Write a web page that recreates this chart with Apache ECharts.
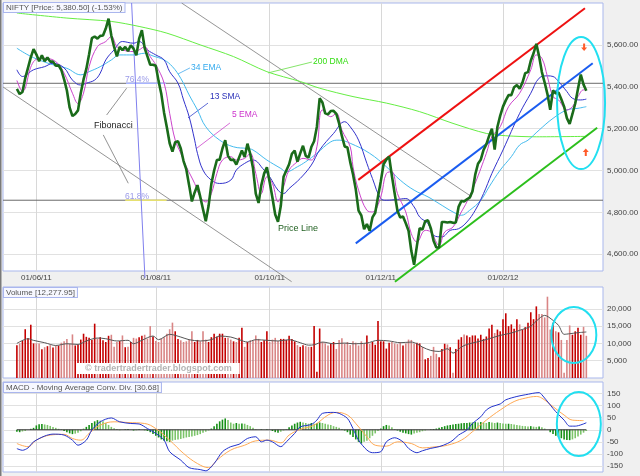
<!DOCTYPE html>
<html><head><meta charset="utf-8">
<script src="https://cdn.jsdelivr.net/npm/echarts@6/dist/echarts.min.js"></script>
<style>html,body{margin:0;padding:0;background:#f0f0f0}#c{width:640px;height:476px}</style>
</head><body><div id="c"></div>
<script>
// ---------- DATA ----------
const tickIdx = [12, 55, 96, 136, 180];            // trading-day index of each date label
const tickLabels = ['01/06/11', '01/08/11', '01/10/11', '01/12/11', '01/02/12'];
const priceTicks = [4600, 4800, 5000, 5200, 5400, 5600];
const volTicks = [5000, 10000, 15000, 20000];
const macdTicks = [-150, -100, -50, 0, 50, 100, 150];

const dayStart = 5; // first trading day with data
const price = [
5390,5365,5375,5441,5490,5540,5580,5555,5522,5550,
5522,5540,5520,5520,5500,5502,5480,5435,5382,5300,
5260,5270,5287,5370,5435,5485,5555,5632,5640,5630,
5643,5645,5678,5725,5645,5590,5545,5590,5575,5590,
5570,5598,5582,5550,5630,5670,5585,5545,5505,5505,
5500,5428,5365,5275,5205,5130,5090,5135,5140,5105,
5045,5005,4930,4852,4895,4930,4875,4815,4758,4830,
4935,5000,5050,5052,5105,5145,5070,5050,5052,5028,
5062,5096,5065,5128,5080,5012,4890,4845,4930,4985,
5015,4945,4870,4790,4755,4830,4970,5000,5030,5080,
5095,5042,5082,5118,5070,5062,5112,5140,5209,5345,
5325,5273,5268,5284,5285,5270,5225,5165,5115,5110,
5040,4982,4910,4808,4785,4720,4744,4712,4776,4798,
4875,4948,5030,5052,5066,4975,4890,4808,4776,4780,
4748,4712,4615,4550,4640,4725,4718,4758,4762,4725,
4665,4632,4633,4754,4754,4752,4754,4750,4752,4826,
4854,4852,4862,4870,4900,4980,5032,5052,5098,5125,
5165,5200,5100,5209,5262,5305,5335,5360,5360,5398,
5408,5390,5420,5465,5470,5524,5560,5605,5545,5470,
5420,5365,5290,5382,5368,5372,5340,5305,5250,5222,
5270,5320,5390,5458,5410,5380.5];

const ema5 = [[5,5430],[7,5378],[11,5520],[15,5536],[19,5520],[22,5465],[25,5369],[27,5320],[29,5370],[31,5496],[34,5592],[37,5616],[39,5640],[41,5592],[43,5576],[47,5568],[49,5576],[51,5592],[53,5544],[55,5505],[58,5417],[60,5273],[62,5145],[64,5082],[66,5018],[69,4938],[71,4874],[73,4850],[75,4890],[77,4986],[79,5050],[82,5066],[84,5050],[87,5058],[89,5082],[91,4986],[93,4890],[95,4970],[97,4938],[99,4850],[101,4922],[103,5002],[106,5042],[108,5058],[111,5050],[113,5113],[115,5289],[118,5257],[120,5273],[122,5193],[125,5113],[126,5018],[128,4906],[131,4810],[133,4802],[136,4874],[138,4986],[140,4994],[142,4890],[145,4802],[147,4698],[149,4659],[152,4714],[154,4706],[157,4643],[159,4706],[162,4730],[165,4802],[167,4850],[170,4940],[174,5082],[176,5161],[179,5209],[182,5305],[186,5369],[190,5481],[192,5552],[194,5536],[196,5448],[198,5353],[200,5337],[203,5289],[205,5305],[207,5353],[209,5385],[210,5385]];
const sma13 = [[5,5481],[7,5449],[11,5481],[15,5496],[18,5512],[22,5490],[25,5432],[28,5408],[30,5417],[33,5432],[35,5465],[37,5528],[40,5576],[43,5616],[47,5608],[49,5616],[52,5576],[55,5552],[58,5528],[60,5472],[63,5417],[65,5337],[67,5257],[69,5145],[70,5082],[72,5002],[75,4954],[78,4938],[82,4954],[84,5002],[87,5034],[90,5050],[94,5002],[96,4970],[99,4906],[101,4890],[103,4914],[107,4962],[111,5026],[114,5098],[119,5177],[123,5233],[125,5209],[128,5145],[131,5034],[133,4962],[136,4866],[138,4858],[142,4862],[145,4866],[148,4826],[150,4778],[153,4746],[155,4690],[158,4683],[161,4714],[164,4722],[167,4754],[170,4810],[173,4890],[176,4986],[180,5098],[186,5273],[190,5369],[193,5441],[196,5452],[198,5449],[200,5425],[203,5377],[205,5345],[208,5337],[210,5341]];
const ema34 = [[5,5584],[9,5552],[13,5528],[18,5505],[23,5488],[28,5457],[31,5472],[35,5496],[39,5528],[42,5552],[47,5552],[51,5560],[54,5547],[58,5528],[61,5496],[64,5440],[67,5361],[70,5289],[73,5209],[78,5145],[83,5113],[88,5105],[90,5098],[95,5050],[100,5010],[102,4994],[106,5018],[109,5042],[113,5082],[118,5137],[121,5145],[125,5130],[132,5082],[138,5018],[143,4954],[148,4906],[153,4874],[157,4842],[162,4802],[165,4786],[168,4810],[172,4858],[175,4922],[179,5002],[183,5066],[186,5122],[189,5145],[193,5193],[198,5249],[203,5289],[207,5297],[210,5305]];
const dma200 = [[5,5752],[23,5728],[39,5712],[49,5688],[59,5656],[71,5600],[83,5544],[95,5472],[107,5425],[114,5393],[126,5353],[138,5322],[150,5281],[162,5225],[174,5177],[181,5166],[192,5161],[210,5163]];

const volume = [
9500,10000,10700,14100,11500,15400,10000,10000,10000,8300,
8900,9200,9500,8800,9300,9400,10200,10600,11300,9800,
12600,9400,9600,11100,12800,11900,11600,11000,15700,11400,
11800,10900,10400,12200,12500,9000,10400,10700,12300,8900,
9000,10400,11600,11400,11800,12200,12500,11400,15000,12000,
10700,10400,11400,11800,12800,14100,16000,13500,11300,10900,
10400,10600,11100,13500,10400,11000,10600,13500,11100,10400,
11800,12800,11900,12800,12800,11600,11600,11100,10600,10400,
11600,14500,9000,10400,10900,10900,12300,11300,10400,10900,
13500,10400,11100,11600,10700,11300,11300,11000,12200,11300,
10600,9500,9000,9500,9200,9000,9000,15000,1800,14300,
10400,10000,9400,10000,10400,8400,11000,11500,10000,10400,
9500,10600,10200,9400,10600,10000,12300,9900,10400,9600,
16500,10600,10600,8500,10200,10400,10000,9800,10400,9400,
10000,11100,11000,10000,10200,10000,9000,5400,5800,6400,
9000,7000,6000,8400,9900,9700,8900,1500,8400,11100,
11800,12600,12300,11800,12300,12300,11400,12500,11300,12000,
14300,15400,13000,14000,13500,17000,18700,15000,15500,14200,
17000,15500,14000,14700,16000,19000,17000,20700,18500,18500,
17500,23500,14000,16000,13500,13200,11000,1500,11000,15200,
12500,13500,14500,12500,14800,12200];
const volMA = [[5,10000],[9,11350],[11,10875],[15,10200],[19,9400],[23,9900],[27,9700],[30,10700],[34,11550],[37,11350],[41,10700],[45,10900],[47,9900],[50,10900],[54,12130],[56,11070],[60,12620],[64,11840],[67,11070],[71,10700],[75,11070],[78,12130],[82,11840],[85,11070],[88,10390],[91,11070],[95,10900],[99,10700],[103,11070],[107,10200],[110,9500],[112,9600],[115,10390],[119,9900],[123,10100],[126,9900],[131,10100],[135,10900],[139,10700],[143,10200],[147,10390],[149,9900],[151,8940],[154,7970],[157,7680],[160,8460],[162,7200],[165,8940],[167,9700],[169,10100],[172,10700],[175,11350],[179,12320],[183,13000],[186,13780],[190,14940],[192,16470],[195,18100],[198,16660],[200,15200],[202,12620],[204,12800],[207,13100],[210,13300]];

const macd = [[5,-78],[7,-85],[9,-75],[11,-50],[15,-26],[18,-18],[22,-22],[25,-43],[27,-64],[30,-43],[32,-1],[35,33],[39,49],[42,33],[46,26],[49,24],[52,5],[55,-15],[58,-43],[60,-91],[64,-126],[67,-157],[71,-165],[73,-170],[76,-140],[79,-91],[82,-70],[85,-60],[88,-36],[91,-29],[93,-50],[95,-43],[97,-50],[100,-70],[102,-50],[105,-15],[107,12],[111,22],[113,40],[115,68],[119,72],[121,68],[124,47],[126,5],[128,-43],[131,-84],[133,-95],[136,-91],[138,-50],[141,-33],[144,-50],[146,-77],[149,-95],[151,-87],[154,-77],[157,-70],[160,-57],[162,-43],[164,-22],[167,-1],[169,26],[172,54],[174,82],[176,96],[179,107],[181,124],[185,138],[188,145],[193,154],[194,145],[197,103],[199,75],[202,40],[204,15],[206,15],[210,29]];
const signal = [[5,-57],[9,-70],[12,-43],[17,-22],[22,-19],[25,-36],[28,-43],[31,-15],[35,19],[40,33],[45,30],[51,26],[55,5],[60,-43],[65,-98],[70,-140],[74,-157],[77,-126],[82,-84],[87,-64],[91,-46],[96,-43],[100,-54],[103,-22],[107,2],[112,19],[117,61],[120,72],[124,61],[127,26],[131,-29],[134,-64],[138,-68],[142,-50],[147,-57],[151,-75],[156,-70],[160,-64],[165,-43],[169,-8],[174,40],[179,82],[184,117],[188,131],[192,138],[194,131],[198,96],[202,61],[205,40],[209,38]];
const hist = [
-8,-10,-7,-5,0,4,8,18,23,24,
22,20,16,12,8,4,2,-5,-10,-15,
-18,-16,-12,-6,5,12,20,28,35,40,
38,35,28,20,12,6,3,-2,0,2,
3,0,-3,-2,2,0,-2,-5,-10,-18,
-25,-32,-40,-45,-48,-50,-45,-42,-40,-38,
-35,-32,-30,-28,-25,-22,-18,-12,-8,-3,
5,15,25,35,42,47,40,30,25,28,
25,26,25,20,15,8,2,0,2,0,
2,0,-5,-10,-12,-8,-3,2,10,18,
25,30,33,30,28,25,28,25,28,30,
28,25,22,20,15,12,8,3,-3,-10,
-20,-30,-40,-50,-57,-50,-45,-35,-25,-15,
-5,5,15,20,18,10,3,-3,-8,-12,
-15,-18,-20,-15,-12,-10,-6,-3,0,2,
3,5,8,12,15,18,20,22,24,25,
27,28,28,30,30,32,30,32,30,28,
32,30,28,30,28,26,25,25,24,22,
20,18,16,15,14,15,13,12,14,10,
5,0,-10,-18,-25,-30,-35,-40,-42,-43,
-40,-35,-28,-20,-12,-5];

// drawn trend lines / Fibonacci levels (index, price)
const redLine = [[127.9,4955],[209.5,5775]];
const blueLine = [[127,4652],[212.3,5512]];
const greenLine = [[141.1,4469],[213.9,5204]];
const grayUpper = [[64.3,5800],[168.7,4875]];
const grayLower = [[0,5399],[103.9,4469]];
const fibVertical = [[46.3,5800],[51.1,4487]];
const fib764 = 5416.5, fib618 = 4858;
const macdZero = [[5,0],[210,0]];

// ---------- CHART ----------
const F = '"Liberation Sans", Arial, sans-serif';
const chart = echarts.init(document.getElementById('c'), null, {width: 640, height: 476});
const seq = (arr) => arr.map((v, k) => [dayStart + k, v]);
const priceSeq = seq(price);

function xAx(g) {
  return {type: 'value', gridIndex: g, min: 0, max: 216,
    axisLine: {show: false}, axisTick: {show: false, customValues: tickIdx},
    axisLabel: {show: g === 0, customValues: tickIdx, formatter: v => tickLabels[tickIdx.indexOf(v)] || '',
      fontSize: 8, color: '#444', fontFamily: F, margin: 3},
    splitLine: {show: true, lineStyle: {color: '#d8d8d8', width: 1}}};
}
function yAx(g, min, max, ticks, fmt) {
  return {type: 'value', gridIndex: g, position: 'right', min, max,
    axisLine: {show: false}, axisTick: {show: false, customValues: ticks},
    axisLabel: {customValues: ticks, formatter: fmt, fontSize: 8, color: '#444', fontFamily: F, margin: 4},
    splitLine: {show: true, lineStyle: {color: '#e1e1e1', width: 1}}};
}
function ln(g, data, color, width, extra) {
  return Object.assign({type: 'line', xAxisIndex: g, yAxisIndex: g, data, symbol: 'none', showSymbol: false,
    lineStyle: {color, width}, silent: true, animation: false, z: 2}, extra || {});
}
const gridBase = {show: true, backgroundColor: '#ffffff', borderColor: '#a9b7ec', borderWidth: 1, left: 3, width: 600, outerBoundsMode: 'none', containLabel: false};

const volData = volume.map((v, k) => {
  const i = dayStart + k;
  const up = k === 0 ? true : price[k] >= price[k - 1];
  return {value: [i, v], itemStyle: {color: up ? '#c40000' : '#d98585'}};
});
const histData = hist.map((v, k) => {
  const prev = k === 0 ? 0 : hist[k - 1];
  const strong = Math.abs(v) >= Math.abs(prev);
  return {value: [dayStart + k, v], itemStyle: {color: strong ? '#169016' : '#7cc46a'}};
});

const option = {
  backgroundColor: '#f0f0f0',
  animation: false,
  grid: [
    Object.assign({}, gridBase, {top: 3, height: 268}),
    Object.assign({}, gridBase, {top: 287, height: 91}),
    Object.assign({}, gridBase, {top: 382, height: 90})
  ],
  xAxis: [xAx(0), xAx(1), xAx(2)],
  yAxis: [
    yAx(0, 4520, 5800, priceTicks, v => v.toLocaleString('en-US', {minimumFractionDigits: 2, maximumFractionDigits: 2})),
    yAx(1, 0, 26300, volTicks, v => v.toLocaleString('en-US')),
    yAx(2, -175, 198, macdTicks, v => String(v))
  ],
  series: [
    // main panel
    ln(0, [[0, fib764], [216, fib764]], '#6a6a6a', 1, {z: 1}),
    ln(0, [[0, fib618], [216, fib618]], '#6a6a6a', 1, {z: 1}),
    ln(0, [[44.3, fib764], [58.7, fib764]], '#a8b4ff', 1.5, {z: 1}),
    ln(0, [[44.0, fib618], [58.9, fib618]], '#e6e070', 1.5, {z: 1}),
    ln(0, grayUpper, '#7a7a7a', 0.8, {z: 1}),
    ln(0, grayLower, '#7a7a7a', 0.8, {z: 1, clip: false}),
    ln(0, fibVertical, '#8080ee', 1, {z: 1, clip: false}),
    ln(0, [[37.3, 5265], [44.5, 5393]], '#777', 0.8),
    ln(0, [[36.1, 5170], [45.1, 4939]], '#777', 0.8),
    ln(0, [[63, 5461], [67.3, 5490]], '#44aaee', 0.8),
    ln(0, [[66.6, 5251], [73.8, 5322]], '#3344cc', 0.8),
    ln(0, [[69.8, 5107], [81.7, 5227]], '#cc44cc', 0.8),
    ln(0, [[95.4, 5466], [111.2, 5518]], '#66dd44', 0.8),
    ln(0, dma200, '#66ee44', 1, {smooth: 0.3}),
    ln(0, ema34, '#44bbee', 1, {smooth: 0.4}),
    ln(0, sma13, '#3333cc', 1, {smooth: 0.4}),
    ln(0, ema5, '#cc44cc', 1, {smooth: 0.4}),
    ln(0, redLine, '#ee1111', 2, {z: 3}),
    ln(0, blueLine, '#1a5cf0', 2, {z: 3}),
    ln(0, greenLine, '#2cbf1c', 2, {z: 3, clip: false}),
    ln(0, priceSeq, '#1a6b1a', 2.6, {z: 4}),
    // volume panel
    {type: 'bar', xAxisIndex: 1, yAxisIndex: 1, data: volData, barWidth: 1.6, silent: true, animation: false},
    ln(1, volMA, '#555555', 1, {smooth: 0.3, z: 3}),
    // macd panel
    {type: 'bar', xAxisIndex: 2, yAxisIndex: 2, data: histData, barWidth: 1.6, silent: true, animation: false},
    ln(2, macdZero, '#333333', 1, {z: 3}),
    ln(2, signal, '#ffaa55', 1, {smooth: 0.4, z: 4}),
    ln(2, macd, '#2233cc', 1, {smooth: 0.3, z: 5})
  ]
};
chart.setOption(option);

// ---------- annotations (placed through the axes) ----------
const P = (g, p) => chart.convertToPixel({xAxisIndex: g, yAxisIndex: g}, p);
const notes = [
  ['34 EMA', [67.7, 5490], '#33aaee', 8.5],
  ['200 DMA', [111.6, 5518], '#33dd11', 8.5],
  ['13 SMA', [74.5, 5351], '#2a30b8', 8.5],
  ['5 EMA', [82.4, 5265], '#cc33cc', 8.5],
  ['Fibonacci', [32.8, 5213], '#222222', 9],
  ['Price Line', [99, 4721], '#1f5f1f', 9],
  ['76.4%', [43.9, 5432], '#9a9ae8', 8.5],
  ['61.8%', [43.9, 4874], '#9a9ae8', 8.5]
];
const graphics = [];
notes.forEach(n => {
  const p = P(0, n[1]);
  graphics.push({type: 'text', z: 50, silent: true, style: {text: n[0], x: p[0], y: p[1], fill: n[2],
    fontSize: n[3], fontFamily: F, textAlign: 'left', textVerticalAlign: 'middle'}});
});
function ellipse(g, c, rx, ry) {
  const p = P(g, c);
  graphics.push({type: 'ellipse', z: 60, silent: true, shape: {cx: p[0], cy: p[1], rx, ry},
    style: {fill: 'none', stroke: '#22dff0', lineWidth: 2}});
}
ellipse(0, [208.1, 5322], 24, 66);
ellipse(1, [205.5, 12430], 22.5, 28);
ellipse(2, [207.3, 24], 22, 32);
function arrow(c, down) {
  const p = P(0, c), x = p[0], y = p[1], s = down ? 1 : -1;
  graphics.push({type: 'polygon', z: 60, silent: true, shape: {points: [
    [x - 1, y - 4 * s], [x + 1, y - 4 * s], [x + 1, y], [x + 3, y], [x, y + 3.5 * s], [x - 3, y], [x - 1, y]]},
    style: {fill: '#ff5a28'}});
}
arrow([209.2, 5588], true);
arrow([209.8, 5088], false);
function header(txt, x, y) {
  graphics.push({type: 'text', z: 70, silent: true, style: {text: txt, x, y, fill: '#555555', fontSize: 8, fontFamily: F,
    backgroundColor: '#f7f8ff', borderColor: '#aab6ee', borderWidth: 1, padding: [1, 2, 0, 2]}});
}
header('NIFTY [Price: 5,380.50] (-1.53%)', 4, 3);
header('Volume [12,277.95]', 4, 288);
header('MACD - Moving Average Conv. Div. [30.68]', 4, 383);
graphics.push({type: 'text', z: 70, silent: true, style: {text: '\u00a9 tradertradertrader.blogspot.com', x: 77, y: 363,
  fill: '#b4b4b4', fontSize: 9, fontWeight: 'bold', fontFamily: F, backgroundColor: '#ffffff', padding: [1, 8, 1, 8]}});
graphics.push({type: 'rect', z: 70, silent: true, shape: {x: 0, y: 0, width: 1.5, height: 476}, style: {fill: '#7a7a7a'}});
chart.setOption({graphic: graphics});
</script>
</body></html>
